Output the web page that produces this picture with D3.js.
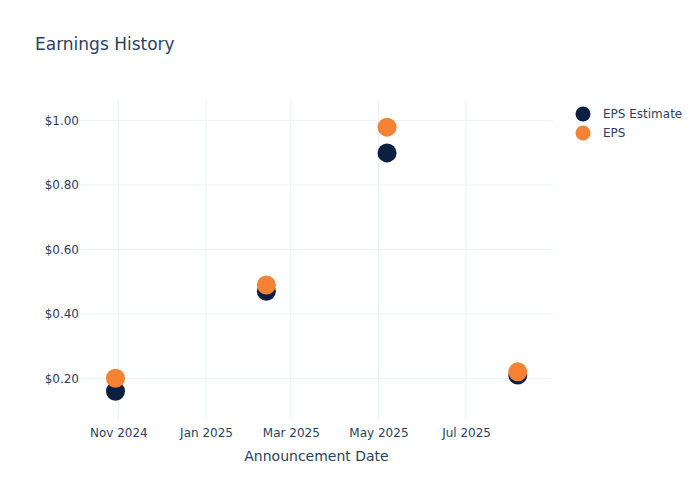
<!DOCTYPE html>
<html><head><meta charset="utf-8">
<script src="https://cdn.jsdelivr.net/npm/d3@7"></script>
<style>body{margin:0;background:#fff}svg{font-family:"DejaVu Sans",Verdana,sans-serif}</style>
</head><body><svg id="c" width="700" height="500"></svg>
<script>
const dates = ["2024-10-30","2025-02-12","2025-05-07","2025-08-06"];
const epsEstimate = [0.16, 0.47, 0.90, 0.21];
const epsActual = [0.20, 0.49, 0.98, 0.22];
const yTicks = [0.2, 0.4, 0.6, 0.8, 1.0];
const xTicks = ["2024-11-01","2025-01-01","2025-03-01","2025-05-01","2025-07-01"];
const xDomain = ["2024-10-05T07:00","2025-08-30T12:00"];
const yDomain = [0.0705, 1.0643];
const seriesNames = ["EPS Estimate","EPS"];
const colors = ["#0c1f41","#f58235"];

const parse = d3.isoParse;
const svg = d3.select("#c");
const L=80,R=553,T=100,B=420;
const x = d3.scaleTime().domain(xDomain.map(parse)).range([L,R]);
const y = d3.scaleLinear().domain(yDomain).range([B,T]);
const txt="#2a3f5f", grid="#ebf0f8";

svg.append("text").attr("x",35).attr("y",50).attr("fill",txt).attr("font-size",17).text("Earnings History");

// grid
svg.append("g").selectAll("line").data(xTicks).join("line")
  .attr("x1",d=>x(parse(d))).attr("x2",d=>x(parse(d))).attr("y1",T).attr("y2",B)
  .attr("stroke",grid).attr("stroke-width",1);
svg.append("g").selectAll("line").data(yTicks).join("line")
  .attr("x1",L).attr("x2",R).attr("y1",d=>y(d)).attr("y2",d=>y(d))
  .attr("stroke",grid).attr("stroke-width",1);

// axes
const xa = svg.append("g").attr("transform",`translate(0,${B})`)
  .call(d3.axisBottom(x).tickValues(xTicks.map(parse)).tickFormat(d3.timeFormat("%b %Y")).tickSize(0).tickPadding(8));
const ya = svg.append("g").attr("transform",`translate(${L},0)`)
  .call(d3.axisLeft(y).tickValues(yTicks).tickFormat(d=>"$"+d3.format(".2f")(d)).tickSize(0).tickPadding(1));
[xa,ya].forEach(a=>{a.select(".domain").remove();a.selectAll("text").attr("fill",txt).attr("font-size",12).style("font-family","DejaVu Sans, Verdana, sans-serif");});

svg.append("text").attr("x",(L+R)/2).attr("y",461).attr("text-anchor","middle").attr("fill",txt).attr("font-size",14).text("Announcement Date");

// points
const series=[epsEstimate,epsActual];
series.forEach((vals,i)=>{
  svg.append("g").selectAll("circle").data(vals).join("circle")
    .attr("cx",(d,j)=>x(parse(dates[j]))).attr("cy",d=>y(d)).attr("r",9.5).attr("fill",colors[i]);
});

// legend
const lg = svg.append("g");
seriesNames.forEach((n,i)=>{
  lg.append("circle").attr("cx",583).attr("cy",114+i*19).attr("r",7.5).attr("fill",colors[i]);
  lg.append("text").attr("x",603).attr("y",114+i*19).attr("dy","0.35em").attr("fill",txt).attr("font-size",12).text(n);
});
</script></body></html>
